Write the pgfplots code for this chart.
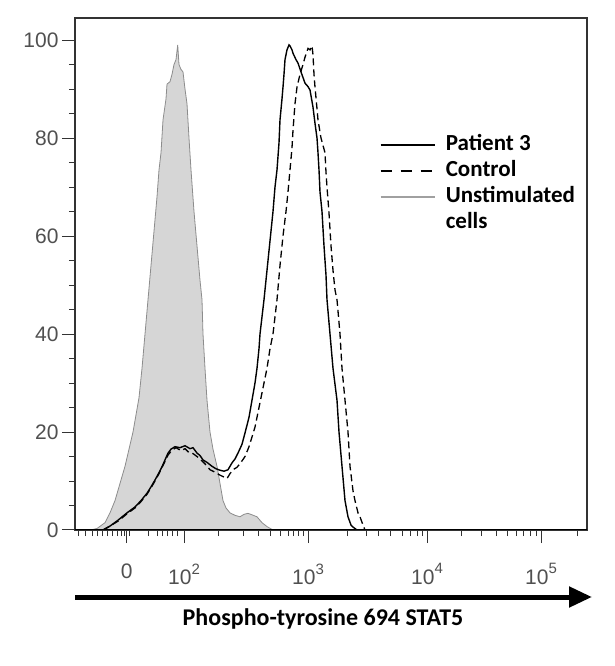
\documentclass[border=0pt]{standalone}
\usepackage{pgfplots}
\pgfplotsset{compat=1.18}
\usepackage{fontspec}
\setmainfont{Liberation Sans}
\newfontfamily\carlito{Carlito}
\usetikzlibrary{arrows.meta}
\definecolor{tickgray}{HTML}{505050}
\definecolor{fillgray}{HTML}{D6D6D6}
\definecolor{edgegray}{HTML}{8C8C8C}
\definecolor{leggray}{HTML}{A0A0A0}

\pgfplotstableread{
x y
90 0
97 0.3
105 1.5
110 3.5
115 6
120 9.5
125 13
129 16.5
133 20
136 23.5
139 27
142 33
145 40
148 47
151 54
154 61
157 68
159 73.5
161 77
163 83.7
166 88
167 91
170 91.5
172 93
174 95
176 96
177.7 99
179 95
181 94
183 93.5
185 90
187 87
189 80
191 73.5
194 65
197 58
200 51
202 47
203 40
205 33
207 26.5
210 20
213 16.5
217 13
220 9.5
223 6
226 4.5
230 3.5
235 3
240 2.7
244 3.2
248 3.4
252 3.1
257 2.7
262 1.5
267 0.7
273 0
}\unstim

\pgfplotstableread{
x y
103 0
110 0.8
118 2
127 3.5
135 4.7
141 6
147 7.5
151 8.8
155 10.2
159 11.7
162 12.9
165 14.3
168 15.7
171 16.5
175 17
180 16.8
185 17.2
190 16.6
193 16.8
197 15.7
200 15.2
203 14.3
207 13.8
212 13
216 12.5
220 12.2
224 12
228 12.3
232 13.7
235 14.5
238 15.7
242 17.5
245 19.8
249 23
252 26.5
255 30
257 33
259 37
260 40
262 43.5
264 47
267 53
270 59
273 65
275 70
277 73.5
279 79
280 83.7
282 88
283 90.4
284 93
285 96
287 98
289 99
290 98.8
292 98
293 97.3
296 96
298 95.3
301 93.5
305 91.2
308 90.5
310 89.8
313 86.3
315 83
317 80
318 77
319 73.5
320 69
322 65
324 58
326 52
327 47
330 40
333 33
337 26.5
339 20
342 13
345 6
348 2.7
351 1
353 0.6
357 0
587 0
}\patient

\pgfplotstableread{
x y
103 0
110 0.8
118 1.8
127 3.3
135 4.5
141 5.8
147 7.3
151 8.6
155 10
159 11.5
162 12.8
165 14
168 15.3
172 16.3
176 16.8
181 16.2
185 16.6
189 15.8
193 15.6
197 15
200 14.5
205 13.5
210 12.3
215 11.8
220 11.2
224 10.8
227 10.5
230 11.5
233 12.3
237 12.8
241 13.8
245 15
249 17
252 19
255 21
258 24
261 27
264 30
267 33
270 37
273 40
275 43.5
277 47
280 54
283 60
286 65
288 69
290 73.5
292 78
293 81.6
295 87
297 90.4
300 93
303 95
305 96.5
308 98.3
310 98
312 98.8
313 97
314 93
315 90.4
317 86
318 83.7
321 80
325 77
326 73
327 70
329 64.7
331 58
333 53
335 49
337 47
340 40
342 33
345 26.5
348 20
350 13
353 8
355 6
358 3.5
360 2.7
363 1
365 0
}\control

\newcommand{\sx}[1]{10\raisebox{0.5em}{\fontsize{15}{15}\selectfont #1}}

\begin{document}
\begin{tikzpicture}
\path[use as bounding box] (-75pt,-136pt) rectangle (539pt,530pt);
\begin{axis}[
  scale only axis,
  width=512pt, height=512pt,
  xmin=75, xmax=587,
  ymin=0, ymax=104.5,
  axis line style={draw=black!80, line width=1.2pt},
  xtick pos=bottom, ytick pos=left,
  tick align=outside,
  major tick length=13pt,
  minor tick length=6pt,
  tick style={draw=black!80, line width=1pt},
  minor tick style={line width=0.8pt},
  xtick={126.7,184,308,427,541},
  xticklabels={0,\sx{2},\sx{3},\sx{4},\sx{5}},
  xticklabel style={yshift=-17pt},
  minor xtick={78,85,92,97,102,107,112,117,121,124,129,148,157,162,167,172,177,218,243,258,270,280,288,293,298,303,347,366,378,390,402,410,417,422,461,481,496,507,516,523,530,536,577},
  ytick={0,20,40,60,80,100},
  minor y tick num=3,
  /pgf/number format/assume math mode=true,
  ticklabel style={font=\fontsize{21}{24}\selectfont, text=tickgray},
  legend cell align=left,
  legend image code/.code={\draw[#1] (0pt,0pt) -- (54pt,0pt); \path (62pt,0pt);},
  legend style={draw=none, fill=none, at={(axis description cs:0.594,0.773)}, anchor=north west,
    font=\carlito\bfseries\fontsize{23}{27}\selectfont, row sep=5pt, inner sep=0pt,
    nodes={inner xsep=2pt, inner ysep=0pt, text height=16pt, text depth=5pt}},
]
\addplot[fill=fillgray, draw=edgegray, line width=0.8pt, forget plot] table[x=x,y=y] {\unstim} \closedcycle;
\addplot[black, line width=1.3pt, dash pattern=on 7pt off 4pt, forget plot] table[x=x,y=y] {\control};
\addplot[black, line width=1.4pt, forget plot] table[x=x,y=y] {\patient};
\addlegendimage{black, line width=2pt}
\addlegendentry{Patient 3}
\addlegendimage{black, line width=2pt, dash pattern=on 11pt off 9pt}
\addlegendentry{Control}
\addlegendimage{leggray, line width=2.5pt}
\addlegendentry{Unstimulated}
\addlegendimage{empty legend}
\addlegendentry{cells}
\draw[black, line width=2.2pt] (axis description cs:0,0) -- (axis description cs:1,0);
\end{axis}
\draw[line width=5pt, -{Triangle[length=23pt,width=20pt]}] (0pt,-67pt) -- (517pt,-67pt);
\node[font=\carlito\bfseries\fontsize{24}{28}\selectfont] at (248pt,-89pt) {Phospho-tyrosine 694 STAT5};
\end{tikzpicture}
\end{document}
